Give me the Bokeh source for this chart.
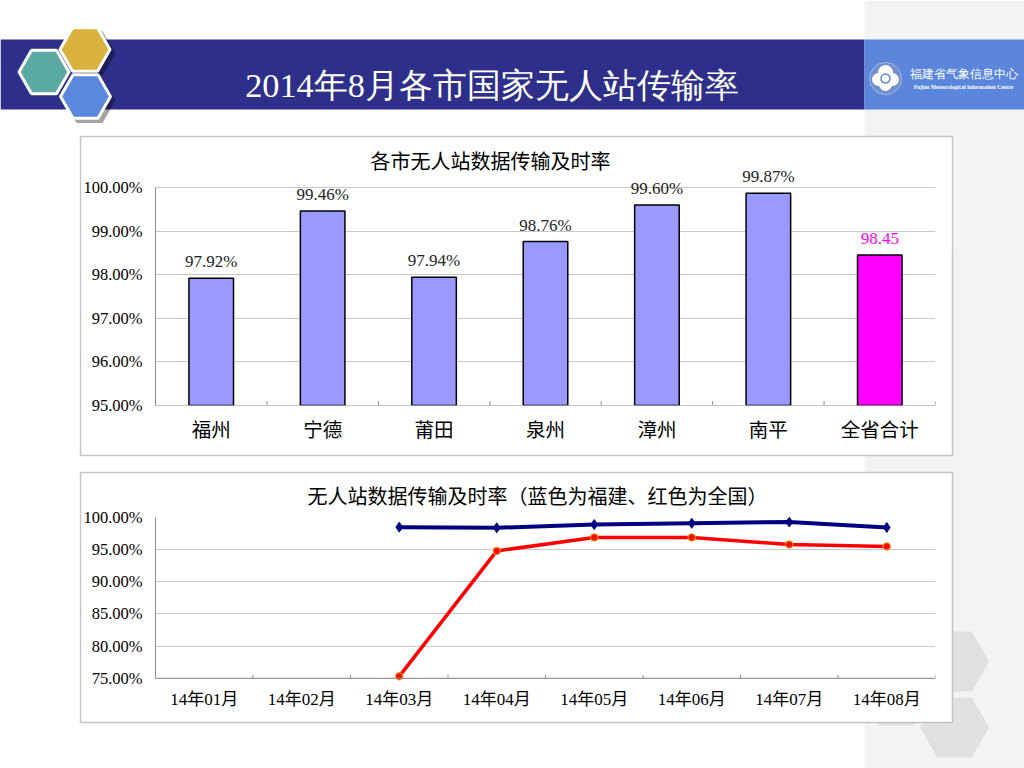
import numpy as np
from bokeh.embed import file_html
from bokeh.layouts import column
from bokeh.models import FactorRange, FixedTicker, Label, PrintfTickFormatter, Range1d, Span, Title
from bokeh.plotting import figure
from bokeh.resources import INLINE

# datos
ciudades = ["福州", "宁德", "莆田", "泉州", "漳州", "南平", "全省合计"]
tasas = [97.92, 99.46, 97.94, 98.76, 99.60, 99.87, 98.45]
etiquetas = ["97.92%", "99.46%", "97.94%", "98.76%", "99.60%", "99.87%", "98.45"]
colores = ["#9999ff"] * 6 + ["#ff00ff"]
color_etiqueta = ["#222222"] * 6 + ["#ff00ff"]
ticks_barras = [95, 96, 97, 98, 99, 100]

meses = ["14年01月", "14年02月", "14年03月", "14年04月", "14年05月", "14年06月", "14年07月", "14年08月"]
fujian = [np.nan, np.nan, 98.5, 98.4, 98.9, 99.1, 99.3, 98.45]
nacional = [np.nan, np.nan, 75.3, 94.8, 96.9, 96.9, 95.8, 95.5]
ticks_lineas = [75, 80, 85, 90, 95, 100]

titulo = "2014年8月各市国家无人站传输率"
titulo_barras = "各市无人站数据传输及时率"
titulo_lineas = "无人站数据传输及时率（蓝色为福建、红色为全国）"

FUENTE = "'Liberation Serif', 'Noto Sans CJK SC'"


def hexagono(cx, cy, r):
    ang = np.radians(np.arange(0, 360, 60))
    return list(cx + r * np.cos(ang)), list(cy + r * np.sin(ang))


def fondo():
    # el lienzo usa los pixeles de la pantalla
    p = figure(width=1024, height=768, x_range=Range1d(0, 1024), y_range=Range1d(768, 0),
               output_backend="svg", toolbar_location=None, min_border=0, frame_align=False)
    p.axis.visible = False
    p.grid.visible = False
    p.outline_line_color = None

    p.quad(left=864, right=1024, top=0, bottom=768, fill_color="#f3f3f5", line_color=None)
    for cx, cy in [(954, 661), (954, 727), (896, 695)]:
        x, y = hexagono(cx, cy, 34.5)
        p.patch(x, y, fill_color="#e0e0e0", line_color=None)
    p.quad(left=0, right=864, top=39, bottom=109, fill_color="#2e2f8a", line_color=None)
    p.quad(left=864, right=1024, top=39, bottom=109, fill_color="#5b86dc", line_color=None)

    # hexagonos del logo
    for cx, cy in [(89, 53), (89, 100)]:
        x, y = hexagono(cx, cy, 26)
        p.patch(x, y, fill_color="black", fill_alpha=0.36, line_color=None)
    for cx, cy, color in [(84.5, 49, "#d8b23c"), (43.5, 71.5, "#5aa9a3"), (85, 96, "#5a88dc")]:
        x, y = hexagono(cx, cy, 25)
        p.patch(x, y, fill_color=color, line_color="white", line_width=3)

    # emblema
    p.scatter([885], [78], size=32, marker="circle", fill_color="#6f8fce", line_color="#a9bce0")
    p.scatter([878, 885, 892, 885], [79, 72, 79, 84], size=[13, 15, 13, 13], marker="circle",
              fill_color="white", line_color=None)
    p.scatter([885], [78], size=9, marker="circle", fill_color="white", line_color="#5b86dc", line_width=1.5)

    p.text([491.5], [84], text=[titulo], text_color="white", text_font=FUENTE, text_font_size="34.3px",
           text_align="center", text_baseline="middle")
    p.text([963], [73], text=["福建省气象信息中心"], text_color="white", text_font="Noto Sans CJK SC",
           text_font_size="12px", text_align="center", text_baseline="middle")
    p.text([963], [86], text=["Fujian Meteorological Information Centre"], text_color="white",
           text_font="Liberation Sans", text_font_size="5.5px", text_font_style="bold",
           text_align="center", text_baseline="middle")

    for top, bottom in [(136, 455), (472, 722)]:
        p.quad(left=80, right=952, top=top, bottom=bottom, fill_color="white", line_color="#c4c4c4", line_width=1.5)
    return p


def base(cats, ymin, ymax, piso, tope, ticks, texto, desplaza, separa, h, arriba, abajo, y_css):
    # piso y tope dejan sitio a marcas y etiquetas fuera de los ejes
    p = figure(width=890, height=h, x_range=FactorRange(*cats, range_padding=0), y_range=Range1d(piso, tope),
               output_backend="svg", toolbar_location=None, background_fill_color=None,
               border_fill_color=None, min_border_left=95, min_border_right=15,
               min_border_top=arriba, min_border_bottom=abajo, frame_align=False,
               styles={"position": "absolute", "left": "60px", "top": f"{y_css}px"})
    p.title = Title(text=texto, align="left", offset=desplaza, text_font=FUENTE, text_font_size="20px",
                    text_font_style="normal", text_color="black", standoff=separa)
    p.outline_line_color = None
    p.xgrid.visible = False
    p.ygrid.grid_line_color = "#c8c8c8"
    p.ygrid.grid_line_width = 1
    p.yaxis.ticker = FixedTicker(ticks=ticks)
    p.yaxis.bounds = (ymin, ymax)
    p.yaxis.formatter = PrintfTickFormatter(format="%.2f%%")
    p.yaxis.major_tick_line_color = None
    p.yaxis.minor_tick_line_color = None
    p.yaxis.axis_line_color = "#8c8c8c"
    p.yaxis.major_label_standoff = 7
    p.yaxis.major_label_text_font = FUENTE
    p.yaxis.major_label_text_font_size = "16.5px"
    p.yaxis.major_label_text_color = "black"
    p.xaxis.major_tick_line_color = None
    p.xaxis.axis_line_color = None
    p.xaxis.major_label_orientation = "horizontal"
    p.xaxis.major_label_text_font = FUENTE
    p.xaxis.major_label_text_color = "black"
    p.add_layout(Span(location=ymin, dimension="width", line_color="#8c8c8c", line_width=1))
    # las marcas del eje caen entre categorias
    bordes = list(range(1, len(cats) + 1))
    alto = (ymax - ymin) * 0.02
    p.segment(x0=bordes, x1=bordes, y0=[ymin] * len(bordes), y1=[ymin + alto] * len(bordes), line_color="#8c8c8c")
    return p


bg = fondo()

barras = base(ciudades, 95, 100, 95, 100.436, ticks_barras, titulo_barras, 215, -8, 317, 31, 49, 137)
barras.xaxis.major_label_standoff = 8
barras.xaxis.major_label_text_font_size = "19.5px"
barras.vbar(x=ciudades, top=tasas, bottom=95, width=0.4, fill_color=colores, line_color="black", line_width=1.5)
for i, (tasa, etiqueta, color) in enumerate(zip(tasas, etiquetas, color_etiqueta)):
    barras.add_layout(Label(x=i + 0.5, y=tasa, text=etiqueta, y_offset=11 if etiqueta == "98.45" else 7,
                            text_align="center", text_baseline="bottom", text_font=FUENTE,
                            text_font_size="17px", text_color=color))

lineas = base(meses, 75, 100, 74.5, 100, ticks_lineas, titulo_lineas, 152, 20, 248, 44, 40, 473)
lineas.xaxis.major_label_standoff = 2
lineas.xaxis.major_label_text_font_size = "17px"
lineas.line(meses, fujian, line_color="#000080", line_width=4)
lineas.scatter(meses, fujian, marker="diamond", size=10, fill_color="#000080", line_color="#000080")
lineas.line(meses, nacional, line_color="#ff0000", line_width=3.5)
lineas.scatter(meses, nacional, marker="circle", size=7.5, fill_color="#ee1100", line_color="#ffa020")

open("out.html", "w").write(file_html(column(bg, barras, lineas), INLINE))
